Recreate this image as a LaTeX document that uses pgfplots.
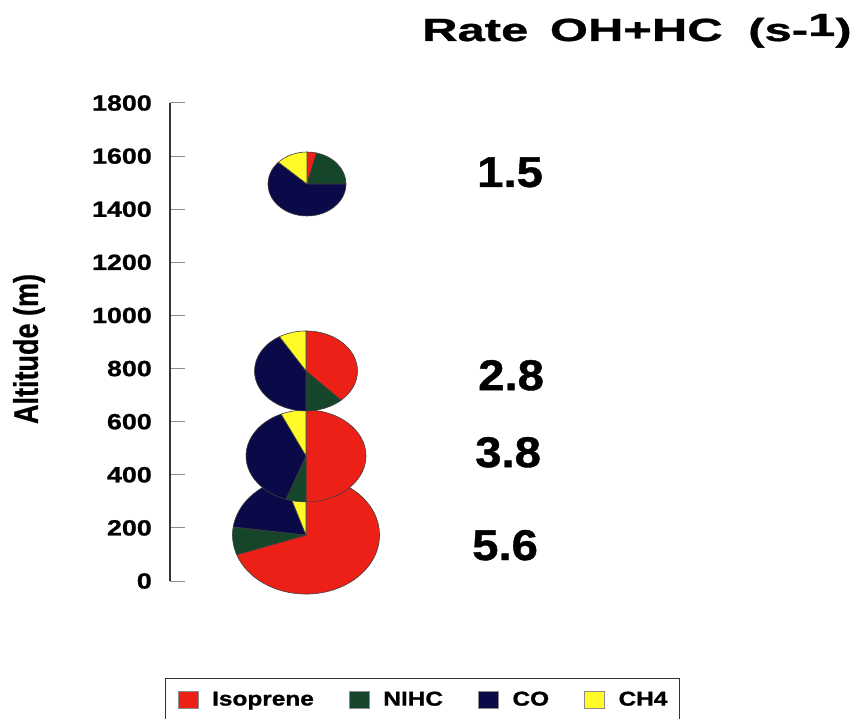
\documentclass[border=0pt]{standalone}
\usepackage{fontspec}
\setmainfont{Liberation Sans}[FakeStretch=1.22, BoldFeatures={FakeBold=1}]
\newfontfamily\titlefont{Liberation Sans}[FakeStretch=1.53, BoldFeatures={FakeBold=1}]
\newfontfamily\numfont{Liberation Sans}[FakeStretch=1.1, BoldFeatures={FakeBold=1}]
\newfontfamily\plainfont{Liberation Sans}[BoldFeatures={FakeBold=0.8}]
\usepackage{graphicx}
\usepackage{pgfplots}
\pgfplotsset{compat=1.18}
\definecolor{isored}{RGB}{236,32,22}
\definecolor{nihc}{RGB}{22,70,42}
\definecolor{co}{RGB}{10,10,72}
\definecolor{ch4}{RGB}{255,250,40}
% one slice: centre x, centre y, x radius, y radius, start %, end %, colour
\newcommand\slice[7]{%
  \addplot[forget plot, fill=#7, draw=black!75, line width=0.6pt, line join=round]
    coordinates {(#1,#2)}
    -- ([shift={({90-3.6*(#5)}:#3pt and #4pt)}]axis cs:#1,#2)
    arc[start angle={90-3.6*(#5)}, end angle={90-3.6*(#6)}, x radius=#3pt, y radius=#4pt]
    -- cycle;}
% pie: centre x, altitude, x radius, y radius, Isoprene %, NIHC %, CO %, CH4 %
\newcommand\pie[8]{%
  \slice{#1}{#2}{#3}{#4}{0}{#5}{isored}
  \slice{#1}{#2}{#3}{#4}{#5}{#5+#6}{nihc}
  \slice{#1}{#2}{#3}{#4}{#5+#6}{#5+#6+#7}{co}
  \slice{#1}{#2}{#3}{#4}{#5+#6+#7}{100}{ch4}}
\begin{document}
\begin{tikzpicture}
\path[use as bounding box] (0pt,0pt) rectangle (859pt,718pt);
\begin{axis}[
  at={(170pt,137pt)}, anchor=south west,
  scale only axis, width=400pt, height=478pt,
  xmin=0, xmax=400, ymin=0, ymax=1800,
  axis x line=none, axis y line*=left,
  ytick={0,200,...,1800}, xtick=\empty,
  tick align=inside, major tick length=15pt,
  y axis line style={line width=1.4pt, black!80},
  ytick style={line width=1pt, black!45},
  /pgf/number format/assume math mode=true,
  /pgf/number format/1000 sep={},
  yticklabel style={font=\fontsize{22}{22}\selectfont\bfseries, anchor=east, inner sep=0pt, xshift=-18pt},
  ylabel={\scalebox{1}[1.27]{Altitude (m)}},
  ylabel style={at={(axis description cs:-0.3525,0.4854)}, anchor=center, font=\plainfont\bfseries\fontsize{27}{27}\selectfont},
  clip=false,
  legend columns=4,
  legend image code/.code={\draw[#1, line width=0.5pt] (0pt,-8.5pt) rectangle (20pt,8.5pt);},
  legend style={at={(axis description cs:-0.0125,-0.2029)}, anchor=north west,
    draw=black!80, line width=1.3pt, font=\fontsize{20}{20}\selectfont\bfseries,
    inner xsep=12pt, inner ysep=10pt,
    nodes={inner xsep=0pt, inner ysep=3pt},
    /tikz/every odd column/.style={column sep=14pt},
    /tikz/every even column/.style={column sep=35pt}},
]
\pie{136}{173}{73.5}{59}{69.6}{7.6}{17.8}{5.0}
\pie{136}{471}{60}{46}{50.0}{5.4}{37.8}{6.8}
\pie{136}{791}{51.5}{40}{38.1}{11.9}{41.4}{8.6}
\pie{137}{1495}{39}{32}{3.9}{21.1}{61.9}{13.1}
\addlegendimage{fill=isored, draw=black!45}
\addlegendentry{Isoprene}
\addlegendimage{fill=nihc, draw=black!45}
\addlegendentry{NIHC}
\addlegendimage{fill=co, draw=black!45}
\addlegendentry{CO}
\addlegendimage{fill=ch4, draw=black!45}
\addlegendentry{CH4}
\node[anchor=base west, inner sep=0pt, font=\numfont\bfseries\fontsize{43}{43}\selectfont] at (axis cs:307,1484) {1.5};
\node[anchor=base west, inner sep=0pt, font=\numfont\bfseries\fontsize{43}{43}\selectfont] at (axis cs:308,719) {2.8};
\node[anchor=base west, inner sep=0pt, font=\numfont\bfseries\fontsize{43}{43}\selectfont] at (axis cs:305,429) {3.8};
\node[anchor=base west, inner sep=0pt, font=\numfont\bfseries\fontsize{43}{43}\selectfont] at (axis cs:302,79) {5.6};
\end{axis}
\node[anchor=base west, inner sep=0pt, font=\titlefont\bfseries\fontsize{32}{32}\selectfont] at (422pt,677pt) {Rate\hspace{8pt} OH+HC\hspace{12pt} (s-\raisebox{5pt}{1})};
\end{tikzpicture}
\end{document}
